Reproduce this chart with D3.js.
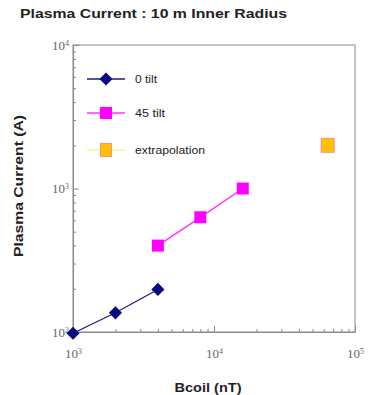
<!DOCTYPE html>
<html>
<head>
<meta charset="utf-8">
<script src="https://cdn.jsdelivr.net/npm/d3@7"></script>
<style>
  body { margin: 0; background: #fff; }
  svg { display: block; }
  .domain { stroke: #8a8a8a; }
  .tick line { stroke: #8a8a8a; }
</style>
</head>
<body>
<div id="chart"></div>
<script>
// values
var tilt0B = [1000, 2000, 4000];
var tilt0I = [98, 136, 198];
var tilt45B = [4000, 8000, 16000];
var tilt45I = [400, 630, 1000];
var extrapB = [64000];
var extrapI = [2000];
var xDomain = [1e3, 1e5];
var yDomain = [1e2, 1e4];
var legendLabels = ["0 tilt", "45 tilt", "extrapolation"];

var W = 373, H = 395;
var margin = { top: 45, right: 18, bottom: 63, left: 73 },
  width = W - margin.left - margin.right,
  height = H - margin.top - margin.bottom;

var sans = "Liberation Sans, Arial, sans-serif";

var svg = d3.select("#chart").append("svg")
  .attr("width", W).attr("height", H);

// title
svg.append("text")
  .attr("x", 20).attr("y", 18)
  .attr("textLength", 267).attr("lengthAdjust", "spacingAndGlyphs")
  .style("font-family", sans)
  .style("font-weight", "bold").style("font-size", "13px")
  .attr("fill", "#222")
  .text("Plasma Current : 10 m Inner Radius");

var g = svg.append("g")
  .attr("transform", "translate(" + margin.left + "," + margin.top + ")");

var x = d3.scaleLog().domain(xDomain).range([0, width]);
var y = d3.scaleLog().domain(yDomain).range([height, 0]);

// log ticks 1..9 per decade
function logTicks(dom) {
  var t = [];
  for (var e = Math.log10(dom[0]); e < Math.log10(dom[1]); e++) {
    for (var m = 1; m < 10; m++) t.push(m * Math.pow(10, e));
  }
  t.push(dom[1]);
  return t;
}
function isMajor(v) { return Math.abs(Math.log10(v) - Math.round(Math.log10(v))) < 1e-9; }

// frame
g.append("rect")
  .attr("width", width).attr("height", height)
  .attr("fill", "none").attr("stroke", "#8a8a8a");

var xAxis = g.append("g")
  .attr("transform", "translate(0," + height + ")")
  .call(d3.axisBottom(x).tickValues(logTicks(xDomain)).tickSizeInner(-3).tickSizeOuter(0).tickFormat(""));
var yAxis = g.append("g")
  .call(d3.axisLeft(y).tickValues(logTicks(yDomain)).tickSizeInner(-3).tickSizeOuter(0).tickFormat(""));

xAxis.selectAll(".tick line").attr("y2", function(d) { return isMajor(d) ? -6 : -3; });
yAxis.selectAll(".tick line").attr("x2", function(d) { return isMajor(d) ? 6 : 3; });

// power-of-ten labels, serif with superscript
function powLabel(sel, v) {
  var e = Math.round(Math.log10(v));
  sel.append("tspan").text("10");
  sel.append("tspan").attr("dy", "-0.5em").style("font-size", "8px").text(e);
}
xAxis.selectAll(".tick").filter(isMajor).each(function(d) {
  var t = d3.select(this).append("text")
    .attr("x", 0).attr("y", 26)
    .attr("text-anchor", "middle")
    .attr("fill", "#666")
    .style("font-family", "Liberation Serif, Times New Roman, serif")
    .style("font-size", "13px");
  powLabel(t, d);
});
yAxis.selectAll(".tick").filter(isMajor).each(function(d) {
  var t = d3.select(this).append("text")
    .attr("x", -4).attr("y", 4)
    .attr("text-anchor", "end")
    .attr("fill", "#666")
    .style("font-family", "Liberation Serif, Times New Roman, serif")
    .style("font-size", "13px");
  powLabel(t, d);
});

// axis titles
svg.append("text")
  .attr("x", 208).attr("y", 392)
  .attr("text-anchor", "middle")
  .attr("textLength", 67).attr("lengthAdjust", "spacingAndGlyphs")
  .style("font-family", sans)
  .style("font-weight", "bold").style("font-size", "13px")
  .attr("fill", "#222")
  .text("Bcoil (nT)");
svg.append("text")
  .attr("transform", "translate(23,186) rotate(-90)")
  .attr("text-anchor", "middle")
  .attr("textLength", 142).attr("lengthAdjust", "spacingAndGlyphs")
  .style("font-family", sans)
  .style("font-weight", "bold").style("font-size", "13px")
  .attr("fill", "#222")
  .text("Plasma Current (A)");

var line = d3.line()
  .x(function(d) { return x(d[0]); })
  .y(function(d) { return y(d[1]); });

var s0 = d3.zip(tilt0B, tilt0I);
var s45 = d3.zip(tilt45B, tilt45I);
var sEx = d3.zip(extrapB, extrapI);

g.append("path").datum(s0).attr("d", line)
  .attr("fill", "none").attr("stroke", "#1a1a80").attr("stroke-width", 1.2);
g.append("path").datum(s45).attr("d", line)
  .attr("fill", "none").attr("stroke", "#ff33ff").attr("stroke-width", 1.5);

var diamond = d3.symbol().type(d3.symbolDiamond2 || d3.symbolDiamond).size(110);

g.selectAll(".p0").data(s0).enter().append("path")
  .attr("transform", function(d) { return "translate(" + x(d[0]) + "," + y(d[1]) + ")"; })
  .attr("d", diamond)
  .attr("fill", "#0a0a80");

g.selectAll(".p45").data(s45).enter().append("rect")
  .attr("x", function(d) { return x(d[0]) - 6; })
  .attr("y", function(d) { return y(d[1]) - 6; })
  .attr("width", 12).attr("height", 12)
  .attr("fill", "#ff00ff");

g.selectAll(".pex").data(sEx).enter().append("rect")
  .attr("x", function(d) { return x(d[0]) - 6.5; })
  .attr("y", function(d) { return y(d[1]) - 7; })
  .attr("width", 13).attr("height", 14)
  .attr("fill", "#ffc000").attr("stroke", "#f59090").attr("stroke-width", 1);

// legend
var legY = [79, 113, 150];
var legW = [22, 30, 70];
var leg = svg.append("g");
legendLabels.forEach(function(lbl, i) {
  var ly = legY[i];
  var colors = ["#1a1a80", "#ff33ff", "#f0f060"];
  leg.append("line")
    .attr("x1", 87).attr("x2", 125).attr("y1", ly).attr("y2", ly)
    .attr("stroke", colors[i]).attr("stroke-width", i === 2 ? 1 : 1.3);
  if (i === 0) {
    leg.append("path").attr("transform", "translate(106," + ly + ")")
      .attr("d", diamond).attr("fill", "#0a0a80");
  } else if (i === 1) {
    leg.append("rect").attr("x", 100).attr("y", ly - 6).attr("width", 12).attr("height", 12)
      .attr("fill", "#ff00ff");
  } else {
    leg.append("rect").attr("x", 100.5).attr("y", ly - 6.5).attr("width", 11).attr("height", 13)
      .attr("fill", "#ffc000").attr("stroke", "#f59090");
  }
  leg.append("text")
    .attr("x", 135).attr("y", ly + 4)
    .attr("textLength", legW[i]).attr("lengthAdjust", "spacingAndGlyphs")
    .style("font-family", sans)
    .style("font-size", "10px")
    .attr("fill", "#222")
    .text(lbl);
});
</script>
</body>
</html>
